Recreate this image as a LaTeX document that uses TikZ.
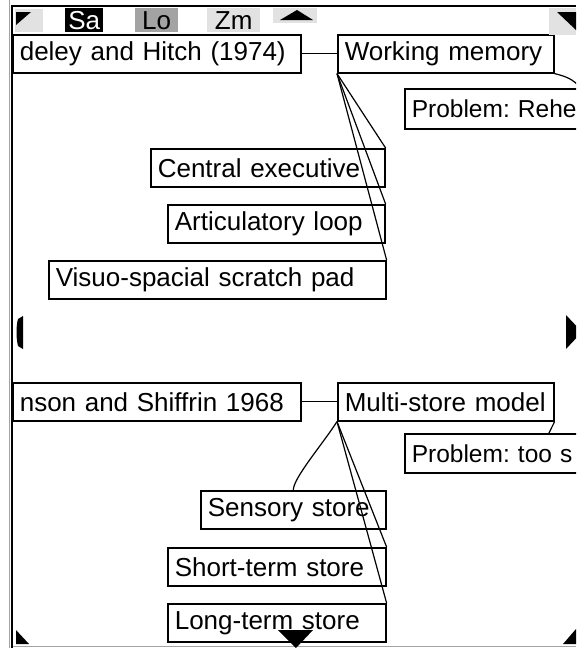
\documentclass[tikz,border=0pt]{standalone}
\usepackage{fontspec}
\setmainfont{Liberation Sans}
\usetikzlibrary{calc}
\definecolor{pdgray}{RGB}{163,163,163}
\definecolor{pdlight}{RGB}{226,226,226}
\frenchspacing

\begin{document}
\begin{tikzpicture}[x=1pt,y=-1pt,font=\fontsize{26}{28}\selectfont,
      cbox/.style={draw,line width=1.6pt,anchor=north west,minimum height=38pt,
        inner xsep=7pt,inner ysep=0pt,align=left},
      pbox/.style={cbox,font=\fontsize{24.5}{28}\selectfont},
      tab/.style={minimum height=24pt,inner sep=0pt,anchor=north west},
      lnk/.style={line width=1.2pt}]
      \useasboundingbox (0,0) rectangle (576,648);
      \clip (0,0) rectangle (576,648);
      \fill[white] (0,0) rectangle (576,648);
      \node[cbox,text width=274pt] (bh) at (12,34) {deley and Hitch (1974)};
      \node[cbox,text width=202pt] (wm) at (337,34) {Working memory};
      \node[pbox,text width=338pt,minimum height=40pt] (rehe) at (404,88) {Problem: Rehe};
      \node[cbox,text width=220pt] (ce) at (150,148) {Central executive};
      \node[cbox,text width=203pt] (al) at (167,204) {Articulatory loop};
      \node[cbox,text width=323pt] (vs) at (48,260) {Visuo-spacial scratch pad};
      \node[cbox,text width=274pt] (as) at (12,382) {nson and Shiffrin 1968};
      \node[cbox,text width=202pt] (ms) at (337,382) {Multi-store model};
      \node[pbox,text width=338pt,minimum height=39pt] (toos) at (404,433) {Problem: too s};
      \node[cbox,text width=171pt] (ss) at (200,490) {Sensory store};
      \node[cbox,text width=204pt] (st) at (167,547) {Short-term store};
      \node[cbox,text width=204pt] (lt) at (167,603) {Long-term store};
      \draw[lnk] (bh.east)--(wm.west);
      \draw[lnk] (wm.south east) .. controls +(12,3) and +(-8,-9) .. (rehe.north);
      \draw[lnk] (wm.south west)--(ce.north east);
      \draw[lnk] (wm.south west)--(al.north east);
      \draw[lnk] (wm.south west)--(vs.north east);
      \draw[lnk] (as.east)--(ms.west);
      \draw[lnk] (ms.south east)--($(toos.north west)!.41!(toos.north east)$);
      \draw[lnk] (ms.south west) .. controls +(-14,22) and +(0,-12) .. (ss.north);
      \draw[lnk] (ms.south west)--(st.north east);
      \draw[lnk] (ms.south west)--(lt.north east);
      % toolbar
      \fill[pdlight] (15,9) rectangle (43,32);
      \fill (16,12)--(31,12)--(16,25)--cycle;
      \node[tab,fill=black,text=white,minimum width=38pt] (sa) at (65,8) {Sa};
      \node[tab,fill=pdgray,minimum width=43pt] (lo) at (135,8) {Lo};
      \node[tab,fill=pdlight,minimum width=53pt] (zm) at (207,8) {Zm};
      \fill[pdlight] (273,8) rectangle (317,23);
      \fill (280,20)--(297,10)--(313,20)--cycle;
      \fill[pdlight] (549,8) rectangle (576,35);
      \fill (557,12)--(576,12)--(576,30)--cycle;
      % frame and scroll marks
      \draw[pdgray,line width=1pt] (9.5,0)--(9.5,648);
      \draw[line width=1.6pt] (12,648)--(12,6)--(576,6);
      \draw[pdgray,line width=1pt] (13,646)--(576,646);
      \fill (23,316)--(23,349)--(18,346) .. controls (16,338) and (16,326) .. (18,319)--cycle;
      \fill (566,315)--(582,332)--(566,349)--cycle;
      \fill (16,630)--(16,644)--(29,644)--cycle;
      \fill (576,629)--(576,644)--(563,644)--cycle;
      \fill (278,630)--(313,630)--(296,648)--cycle;
    \end{tikzpicture}
\end{document}
